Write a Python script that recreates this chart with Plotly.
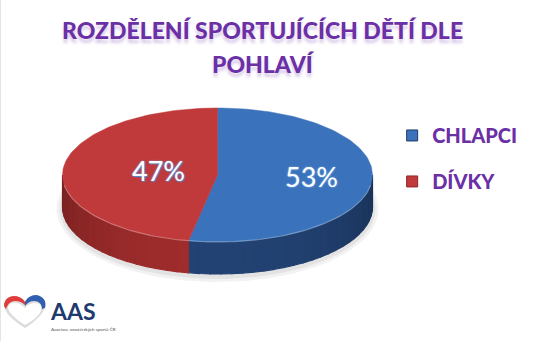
import numpy as np
import plotly.graph_objects as go

# ---------------- data ----------------
categories = ["CHLAPCI", "DÍVKY"]
values = [53, 47]
title_lines = ["ROZDĚLENÍ SPORTUJÍCÍCH DĚTÍ DLE", "POHLAVÍ"]

# ---------------- style ----------------
top_colors = [(58, 115, 187), (192, 57, 59)]
side_colors = [(34, 66, 115), (160, 44, 44)]
label_radius = [0.61, 0.38]
PURPLE = "#6b2fa6"
CX, CY, RX, RY, DEPTH = 217.5, 175.0, 155.0, 67.0, 32.0
W, H = 550, 341


def pt(theta, dy=0.0):
    return CX + RX * np.sin(theta), CY - RY * np.cos(theta) + dy


def rgb(c, f=1.0):
    return "rgb(%d,%d,%d)" % tuple(max(0, min(255, int(round(v * f)))) for v in c)


fig = go.Figure()

# soft drop shadow under the pie
for k, a in [(6, 0.05), (3, 0.06)]:
    t = np.linspace(0, 2 * np.pi, 200)
    xs = CX + (RX + k) * np.sin(t)
    ys = CY + DEPTH + 2 - (RY + k) * np.cos(t)
    fig.add_trace(go.Scatter(x=xs, y=ys, mode="lines", fill="toself",
                             fillcolor="rgba(0,0,0,%.2f)" % a, line=dict(width=0),
                             hoverinfo="skip", showlegend=False))

total = float(sum(values))
angles = np.cumsum([0.0] + [v / total * 2 * np.pi for v in values])

# side walls (front half only), shaded in strips
front0, front1 = np.pi / 2, 3 * np.pi / 2
for i in range(len(values)):
    a0, a1 = max(angles[i], front0), min(angles[i + 1], front1)
    if a1 <= a0:
        continue
    n = max(2, int(np.degrees(a1 - a0) / 4))
    edges = np.linspace(a0, a1, n + 1)
    for j in range(n):
        t = np.linspace(edges[j], edges[j + 1], 5)
        xt, yt = pt(t)
        xb, yb = pt(t[::-1], DEPTH)
        mid = (edges[j] + edges[j + 1]) / 2
        f = 0.74 + 0.26 * (-np.cos(mid))
        col = rgb(side_colors[i], f)
        fig.add_trace(go.Scatter(x=np.concatenate([xt, xb, xt[:1]]),
                                 y=np.concatenate([yt, yb, yt[:1]]),
                                 mode="lines", fill="toself", fillcolor=col,
                                 line=dict(width=1.2, color=col),
                                 hoverinfo="skip", showlegend=False))

# top surfaces
for i in range(len(values)):
    t = np.linspace(angles[i], angles[i + 1], 120)
    xa, ya = pt(t)
    xs = np.concatenate([[CX], xa, [CX]])
    ys = np.concatenate([[CY], ya, [CY]])
    fig.add_trace(go.Scatter(x=xs, y=ys, mode="lines", fill="toself",
                             fillcolor=rgb(top_colors[i]),
                             line=dict(width=0.5, color=rgb(top_colors[i])),
                             hoverinfo="skip", showlegend=False))

# rim highlight on the front edge
t = np.linspace(front0 + 0.15, front1 - 0.15, 120)
xr, yr = pt(t)
fig.add_trace(go.Scatter(x=xr, y=yr, mode="lines",
                         line=dict(width=1.2, color="rgba(255,255,255,0.30)"),
                         hoverinfo="skip", showlegend=False))

# percentage labels
for i, v in enumerate(values):
    mid = (angles[i] + angles[i + 1]) / 2
    lx = CX + label_radius[i] * RX * np.sin(mid)
    ly = CY - label_radius[i] * RY * np.cos(mid)
    fig.add_annotation(x=lx, y=ly - 2, xref="x", yref="y", showarrow=False,
                       text="%d%%" % round(v / total * 100),
                       font=dict(family="Lato", size=27, color="white",
                                 shadow="0px 0px 2px #7fb0ee, 1px 1px 1px #4a7fc4"))

# legend entries
for i, c in enumerate(categories):
    fig.add_trace(go.Scatter(x=[None], y=[None], mode="markers", name=c,
                             legendgroup=c,
                             marker=dict(symbol="square", size=11, color=rgb(top_colors[i]),
                                         line=dict(width=1, color=rgb(side_colors[i], 0.9)))))

# title
tfont = dict(family="Lato", size=23, color=PURPLE, weight=900,
             shadow="0px 4px 3px rgba(107,47,166,0.25)")
fig.add_annotation(x=262, y=30, xref="x", yref="y", showarrow=False, text=title_lines[0],
                   font=tfont)
fig.add_annotation(x=263, y=64, xref="x", yref="y", showarrow=False, text=title_lines[1],
                   font=tfont)

# logo (decorative)
fig.add_shape(type="path", xref="x", yref="y",
              path="M 25,328 C 12,320 3,311 4,304 C 5,297 13,294 19,297 C 22,298 24,300 25,302 "
                   "C 27,298 31,295 36,295 C 43,296 47,301 45,307 C 43,314 35,322 25,328 Z",
              fillcolor="#dcdcdc", line=dict(width=0))
fig.add_shape(type="path", xref="x", yref="y",
              path="M 4,306 C 4,297 13,294 19,297 C 22,298 24,300 25,302 L 25,305 "
                   "C 21,301 15,300 11,302 C 8,304 7,306 6,309 Z",
              fillcolor="#e23b3b", line=dict(width=0))
fig.add_shape(type="path", xref="x", yref="y",
              path="M 25,302 C 27,298 31,295 36,295 C 43,296 47,301 45,308 L 42,309 "
                   "C 42,304 39,301 34,301 C 30,301 27,303 25,306 Z",
              fillcolor="#2f5fae", line=dict(width=0))
fig.add_shape(type="path", xref="x", yref="y",
              path="M 25,325 C 14,318 8,312 8,307 C 9,303 13,302 17,303 C 21,304 23,306 25,308 "
                   "C 27,305 31,303 35,303 C 40,303 42,306 41,310 C 40,315 34,320 25,325 Z",
              fillcolor="white", line=dict(width=0))
fig.add_annotation(x=73, y=311, xref="x", yref="y", showarrow=False, text="AAS",
                   font=dict(family="Lato", size=23, color="#1e3a6e", weight="bold"))
fig.add_annotation(x=49, y=329, xref="x", yref="y", showarrow=False, xanchor="left",
                   text="Asociace amatérských sportů ČR",
                   font=dict(family="Lato", size=4.5, color="#555555"))

# faint slide border on the left
fig.add_shape(type="line", xref="x", yref="y", x0=0.5, x1=0.5, y0=0, y1=H,
              line=dict(width=1, color="#e4e4e4"))

fig.update_layout(
    width=W, height=H, margin=dict(l=0, r=0, t=0, b=0),
    paper_bgcolor="white", plot_bgcolor="white",
    xaxis=dict(range=[0, W], visible=False, fixedrange=True, domain=[0, 1]),
    yaxis=dict(range=[H, 0], visible=False, fixedrange=True, domain=[0, 1]),
    showlegend=True,
    legend=dict(x=0.713, y=0.66, xanchor="left", yanchor="top",
                font=dict(family="Lato", size=20, color=PURPLE, weight=900),
                tracegroupgap=17, bgcolor="rgba(0,0,0,0)"),
)

fig.write_html("out.html")
